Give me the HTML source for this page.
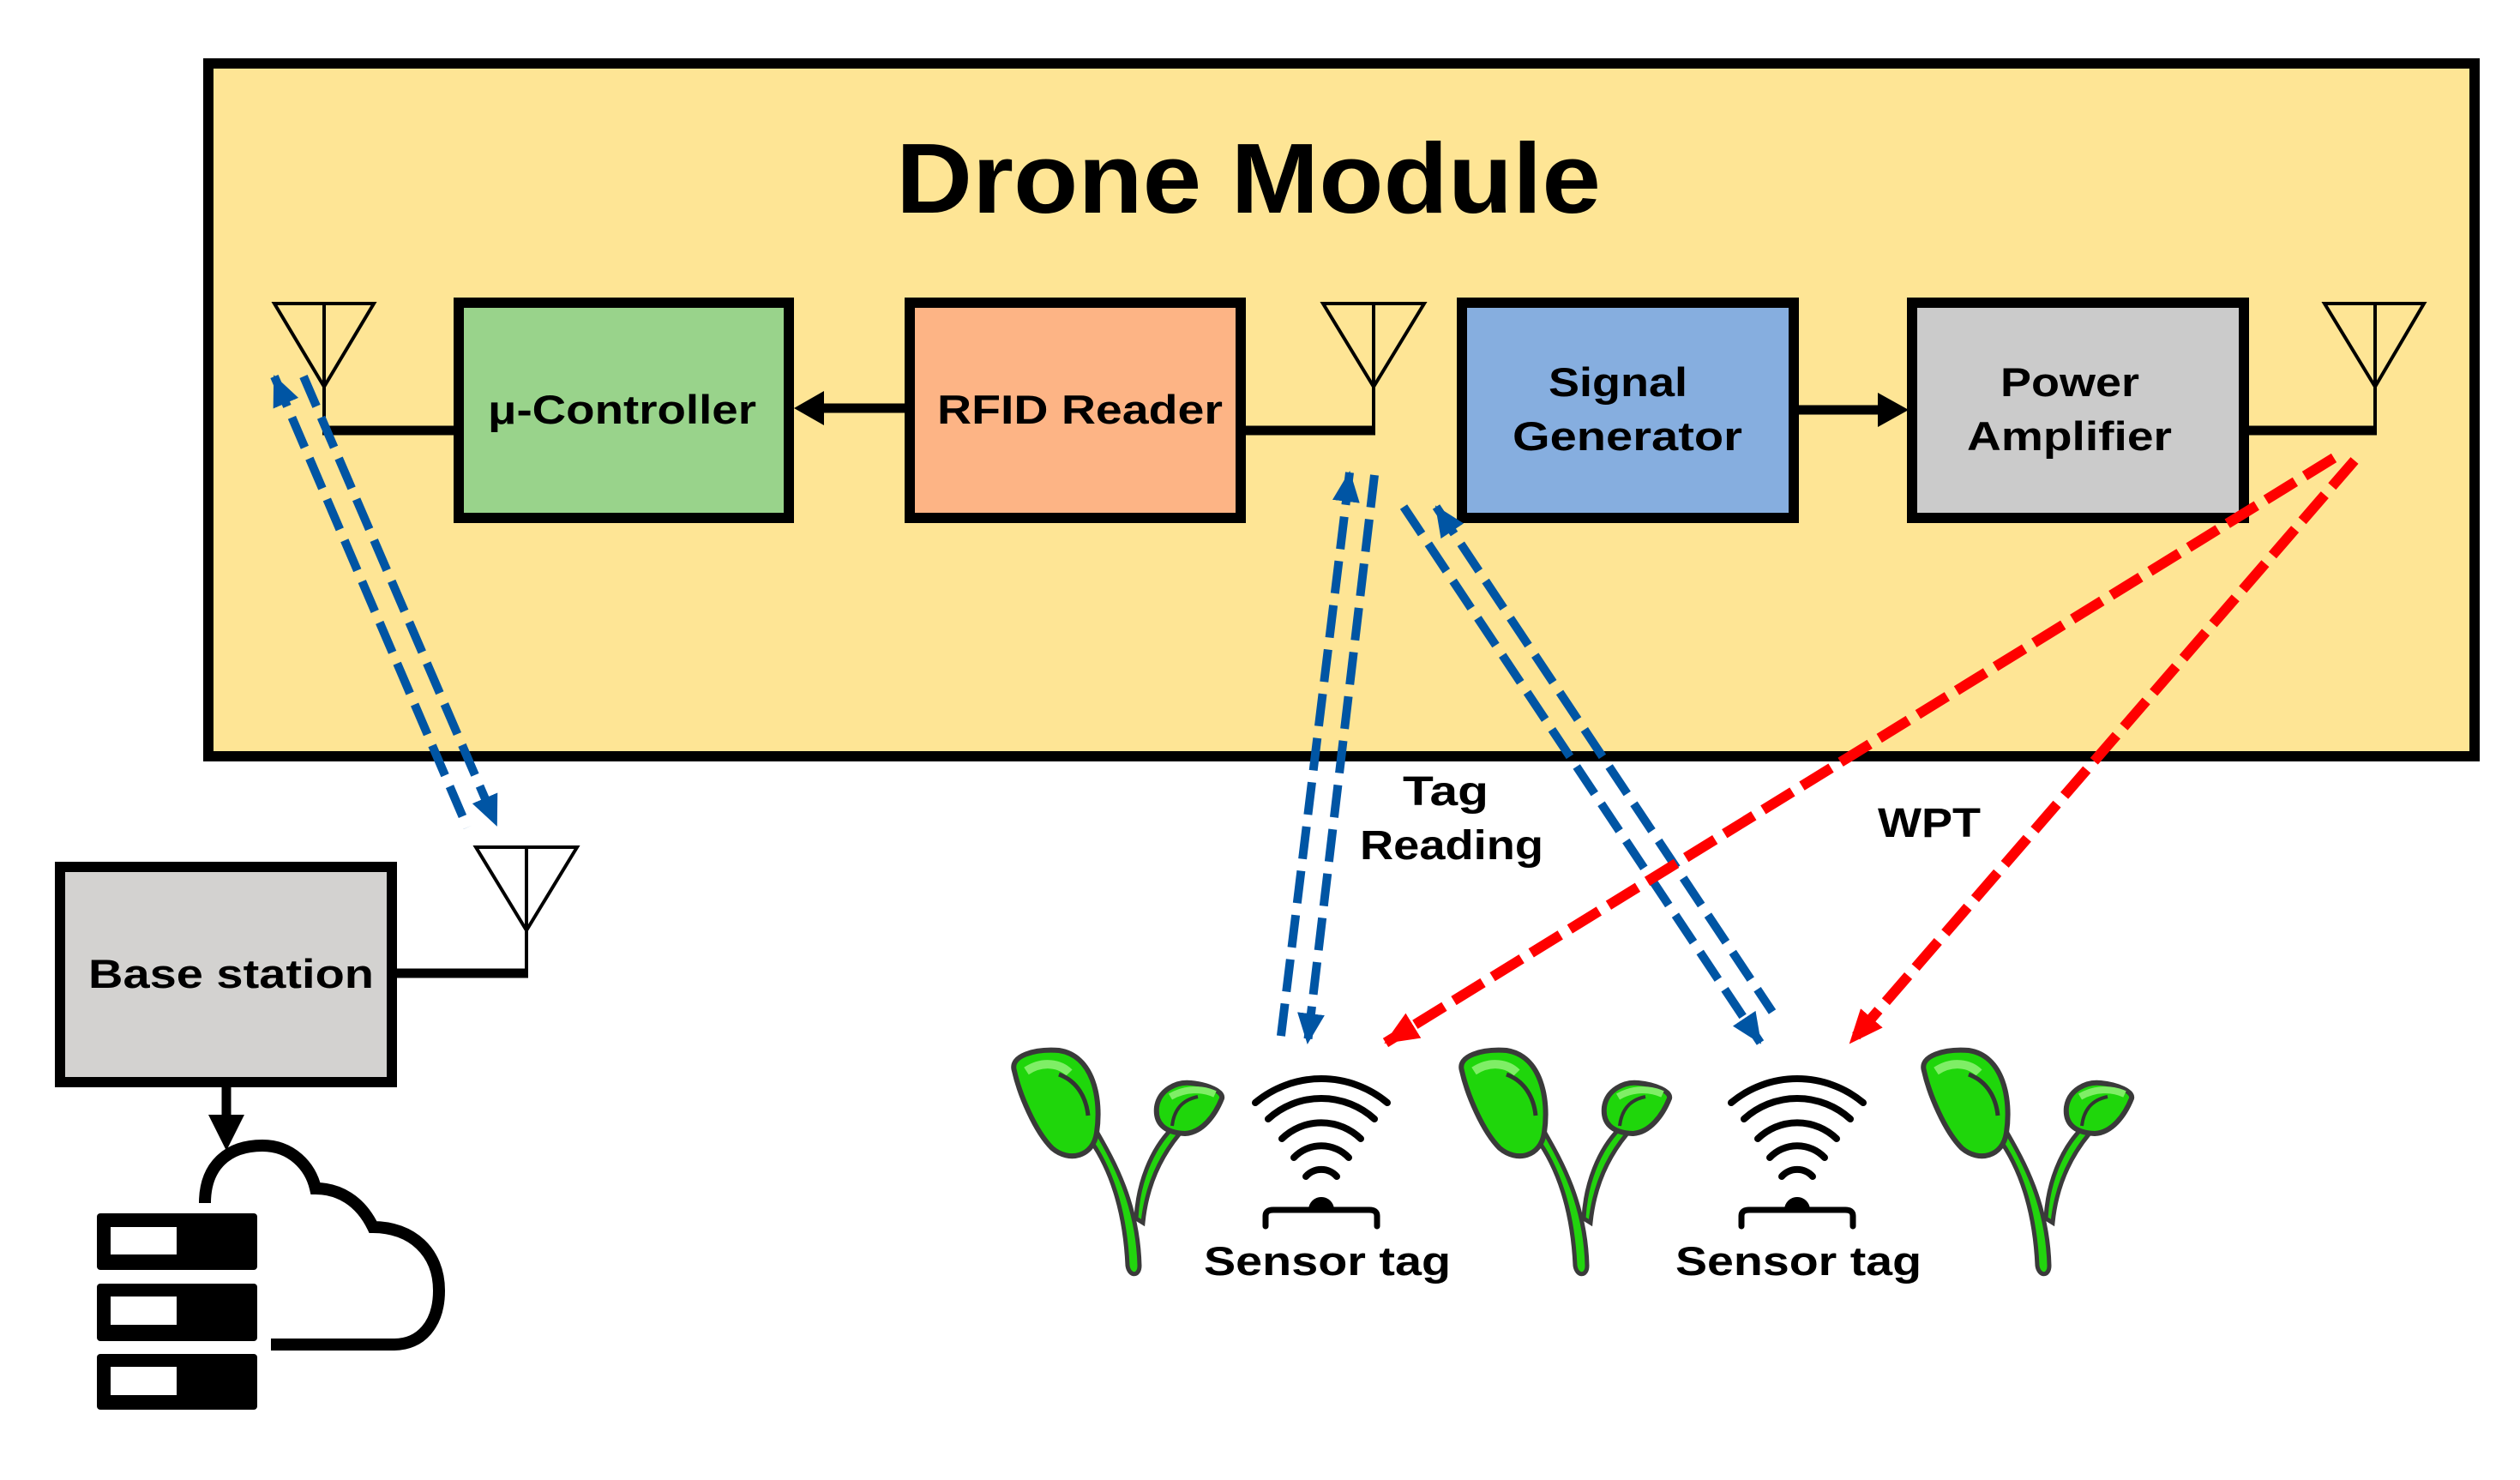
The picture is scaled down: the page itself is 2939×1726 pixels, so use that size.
<!DOCTYPE html>
<html><head><meta charset="utf-8"><style>
html,body{margin:0;padding:0;background:#fff;}
svg{display:block;}
text{font-family:"Liberation Sans",Arial,sans-serif;font-weight:bold;fill:#000;}
</style></head><body>
<svg width="2939" height="1726" viewBox="0 0 2939 1726" xmlns="http://www.w3.org/2000/svg">
<defs>
<marker id="ab" markerUnits="userSpaceOnUse" markerWidth="36" markerHeight="32" refX="34" refY="16" orient="auto-start-reverse"><path d="M0,0 L36,16 L0,32 z" fill="#0055a4"/></marker>
<marker id="ar" markerUnits="userSpaceOnUse" markerWidth="40" markerHeight="34" refX="38" refY="17" orient="auto"><path d="M0,0 L40,17 L0,34 z" fill="#ff0000"/></marker>
<g id="plant">
<path d="M100,95 C120,130 150,180 152,255 C152,268 140,268 138,255 C135,190 118,140 92,105 Z" fill="#22d40e" stroke="#3a3a3a" stroke-width="5"/>
<path d="M148,200 C150,160 165,120 190,95 L198,102 C175,130 160,165 156,205 Z" fill="#22d40e" stroke="#3a3a3a" stroke-width="5"/>
<path d="M6,28 C0,10 30,2 58,4 C98,10 108,60 102,100 C98,128 70,135 50,118 C30,98 12,55 6,28 Z" fill="#1fd60b" stroke="#3a3a3a" stroke-width="6"/>
<path d="M20,28 C40,15 60,20 70,30" fill="none" stroke="#7fee66" stroke-width="10"/>
<path d="M58,32 C80,40 90,60 92,80" fill="none" stroke="#333" stroke-width="5"/>
<path d="M172,70 C175,50 195,40 212,42 C232,44 250,52 248,60 C240,80 225,100 205,101 C180,100 170,88 172,70 Z" fill="#1fd60b" stroke="#3a3a3a" stroke-width="6"/>
<path d="M188,58 C205,48 225,48 240,55" fill="none" stroke="#7fee66" stroke-width="8"/>
<path d="M220,58 C200,62 192,75 190,92" fill="none" stroke="#333" stroke-width="4"/>
</g>
<g id="tag" fill="none" stroke="#000" stroke-width="8" stroke-linecap="round">
<path d="M-77,1286 A120,120 0 0 1 77,1286"/>
<path d="M-62,1305 A92,92 0 0 1 62,1305"/>
<path d="M-46,1328 A66,66 0 0 1 46,1328"/>
<path d="M-32,1350 A44,44 0 0 1 32,1350"/>
<path d="M-18,1372 A24,24 0 0 1 18,1372"/>
<path d="M-65,1430 L-65,1418 Q-65,1411 -56,1411 L56,1411 Q65,1411 65,1418 L65,1430" stroke-width="7"/>
<path d="M-14,1411 A14,14 0 0 1 14,1411 Z" fill="#000" stroke-width="2"/>
</g>
</defs>

<rect x="243" y="74" width="2643" height="808" fill="#fee595" stroke="#000" stroke-width="12"/>
<text x="1045" y="248" font-size="116" textLength="822" lengthAdjust="spacingAndGlyphs">Drone Module</text>

<g fill="none" stroke="#000" stroke-width="4">
<path d="M320,354 L436,354 L378,451 Z M378,354 L378,500"/>
<path d="M1543,354 L1661,354 L1602,451 Z M1602,354 L1602,500"/>
<path d="M2711,354 L2827,354 L2770,451 Z M2770,354 L2770,500"/>
<path d="M555,988 L673,988 L614,1085 Z M614,988 L614,1138"/>
</g>
<g stroke="#000" stroke-width="11">
<line x1="376" y1="502" x2="535" y2="502"/>
<line x1="1447" y1="502" x2="1604" y2="502"/>
<line x1="2617" y1="502" x2="2772" y2="502"/>
<line x1="457" y1="1135" x2="616" y2="1135"/>
<line x1="1067" y1="476" x2="958" y2="476"/>
<line x1="2098" y1="478" x2="2194" y2="478"/>
<line x1="264" y1="1268" x2="264" y2="1305"/>
</g>
<path d="M926,476 L961,456 L961,496 Z" fill="#000"/>
<path d="M2226,478 L2190,458 L2190,498 Z" fill="#000"/>
<path d="M264,1342 L243,1300 L285,1300 Z" fill="#000"/>

<rect x="535" y="353" width="385" height="251" fill="#99d38b" stroke="#000" stroke-width="12"/>
<rect x="1061" y="353" width="386" height="251" fill="#fdb485" stroke="#000" stroke-width="12"/>
<rect x="1705" y="353" width="387" height="251" fill="#86aedf" stroke="#000" stroke-width="12"/>
<rect x="2230" y="353" width="387" height="251" fill="#cbcbcb" stroke="#000" stroke-width="12"/>
<rect x="70" y="1011" width="387" height="251" fill="#d3d2d0" stroke="#000" stroke-width="12"/>

<text x="569" y="494" font-size="47" textLength="313" lengthAdjust="spacingAndGlyphs">μ-Controller</text>
<text x="1093" y="494" font-size="47" textLength="333" lengthAdjust="spacingAndGlyphs">RFID Reader</text>
<text x="1806" y="462" font-size="47" textLength="162" lengthAdjust="spacingAndGlyphs">Signal</text>
<text x="1764" y="525" font-size="47" textLength="268" lengthAdjust="spacingAndGlyphs">Generator</text>
<text x="2333" y="462" font-size="47" textLength="162" lengthAdjust="spacingAndGlyphs">Power</text>
<text x="2294" y="525" font-size="47" textLength="239" lengthAdjust="spacingAndGlyphs">Amplifier</text>
<text x="103" y="1152" font-size="47" textLength="333" lengthAdjust="spacingAndGlyphs">Base station</text>

<path d="M239,1403 C239,1360 265,1336 306,1336 C340,1336 362,1360 368,1386 C395,1386 420,1400 435,1431 C480,1431 512,1460 512,1505 C512,1545 490,1568 460,1568 L316,1568" fill="none" stroke="#000" stroke-width="14"/>
<g fill="#000">
<rect x="113" y="1415" width="187" height="66" rx="4"/>
<rect x="113" y="1497" width="187" height="67" rx="4"/>
<rect x="113" y="1579" width="187" height="65" rx="4"/>
</g>
<g fill="#fff">
<rect x="129" y="1431" width="77" height="32"/>
<rect x="129" y="1512" width="77" height="33"/>
<rect x="129" y="1594" width="77" height="33"/>
</g>

<use href="#plant" transform="translate(1177,1221)"/>
<use href="#plant" transform="translate(1699,1221)"/>
<use href="#plant" transform="translate(2238,1221)"/>
<use href="#tag" transform="translate(1541,0)"/>
<use href="#tag" transform="translate(2096,0)"/>
<text x="1404" y="1487" font-size="47" textLength="288" lengthAdjust="spacingAndGlyphs">Sensor tag</text>
<text x="1954" y="1487" font-size="47" textLength="287" lengthAdjust="spacingAndGlyphs">Sensor tag</text>

<text x="1636" y="939" font-size="48" textLength="100" lengthAdjust="spacingAndGlyphs">Tag</text>
<text x="1586" y="1002" font-size="48" textLength="214" lengthAdjust="spacingAndGlyphs">Reading</text>
<text x="2190" y="976" font-size="48" textLength="120" lengthAdjust="spacingAndGlyphs">WPT</text>

<g fill="none" stroke="#0055a4" stroke-width="10" stroke-dasharray="38 14">
<line x1="320" y1="439" x2="545" y2="965" marker-start="url(#ab)"/>
<line x1="354" y1="439" x2="579" y2="962" marker-end="url(#ab)"/>
<line x1="1574" y1="551" x2="1493" y2="1216" marker-start="url(#ab)"/>
<line x1="1603" y1="554" x2="1525" y2="1216" marker-end="url(#ab)"/>
<line x1="1637" y1="591" x2="2053" y2="1216" marker-end="url(#ab)"/>
<line x1="1675" y1="591" x2="2067" y2="1180" marker-start="url(#ab)"/>
</g>
<g fill="none" stroke="#ff0000" stroke-width="12" stroke-dasharray="40 13">
<line x1="2722" y1="534" x2="1616" y2="1216" marker-end="url(#ar)"/>
<line x1="2746" y1="537" x2="2158" y2="1216" marker-end="url(#ar)"/>
</g>
</svg>
</body></html>
